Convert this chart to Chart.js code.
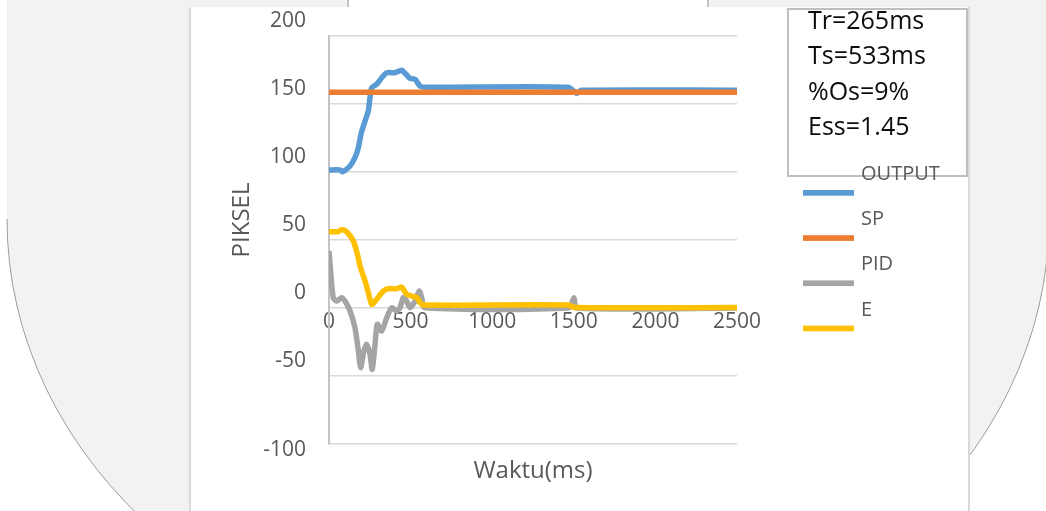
<!DOCTYPE html>
<html>
<head>
<meta charset="utf-8">
<script src="https://cdn.jsdelivr.net/npm/chart.js@4.4.1/dist/chart.umd.min.js"></script>
<style>
  html, body { margin: 0; padding: 0; background: #ffffff; overflow: hidden; }
  #wrap { position: relative; width: 1046px; height: 511px; }
  canvas { display: block; }
</style>
</head>
<body>
<div id="wrap"><canvas id="c" width="1046" height="511"></canvas></div>
<script>
// Step response of the PID loop: time in ms, values in pixels
const outputTime = [0, 67, 84, 129, 159, 180, 196, 221, 241, 251, 262, 292, 323, 354, 404, 445, 472, 496, 527, 558, 588, 1464, 1518, 1545, 2500];
const outputVal  = [101.5, 101.5, 100.2, 104.4, 110.5, 117.9, 127.9, 137.5, 144.9, 154.6, 162, 164.5, 169.3, 173, 173, 174.8, 171.8, 168.9, 168.2, 163.2, 162.3, 162.3, 157.8, 160.1, 160.1];

const spTime = [0, 2500];
const spVal  = [158.7, 158.7];

const pidTime = [0, 10, 26, 47, 78, 98, 129, 159, 180, 194, 214, 231, 251, 265, 282, 296, 323, 354, 384, 415, 435, 455, 476, 496, 527, 553, 568, 588, 1470, 1501, 1518, 2500];
const pidVal  = [42, 27.2, 7.6, 5.1, 7.6, 5.1, -2.2, -14.5, -31.6, -43.9, -31.6, -26.7, -34, -45.1, -26.7, -12, -16.9, -7.1, 0.2, -2.2, 0.2, 7.6, 5.1, 0.2, 5.1, 12.5, 7.6, 0.2, 0.2, 7.6, 0, 0];

const eTime = [0, 57, 78, 108, 149, 174, 190, 221, 241, 262, 292, 333, 363, 415, 445, 476, 507, 537, 558, 578, 1464, 1507, 2500];
const eVal  = [56.1, 56.1, 57.8, 56.1, 49.3, 39.5, 30.9, 19.9, 11.3, 2.7, 6.4, 12.5, 14.2, 14.2, 15.4, 10.1, 8.8, 7.6, 3.9, 2.2, 2.2, 0.3, 0.3];

const seriesNames  = ['OUTPUT', 'SP', 'PID', 'E'];
const seriesColors = ['#5B9BD5', '#ED7D31', '#A5A5A5', '#FFC000'];

const xTickValues = [0, 500, 1000, 1500, 2000, 2500];
const yTickValues = [-100, -50, 0, 50, 100, 150, 200];

const stats = ['Tr=265ms', 'Ts=533ms', '%Os=9%', 'Ess=1.45'];
const xTitle = 'Waktu(ms)';
const yTitle = 'PIKSEL';

const FONT = '"Open Sans", "Noto Sans", sans-serif';
const TEXT_GREY = '#595959';

function points(t, v) { return t.map((x, i) => ({ x: x, y: v[i] })); }

const seriesData = [points(outputTime, outputVal), points(spTime, spVal), points(pidTime, pidVal), points(eTime, eVal)];

// page backdrop: grey sheet with a rounded lower edge, white chart panel, stats box
const backdrop = {
  id: 'backdrop',
  beforeDraw(chart) {
    const ctx = chart.ctx;
    ctx.save();
    ctx.fillStyle = '#ffffff';
    ctx.fillRect(0, 0, chart.width, chart.height);

    ctx.beginPath();
    ctx.moveTo(7, 0);
    ctx.lineTo(1060, 0);
    ctx.lineTo(1060, 219);
    ctx.ellipse(528, 219, 521, 446, 0, 0, Math.PI, false);
    ctx.lineTo(7, 0);
    ctx.closePath();
    ctx.fillStyle = '#f2f2f2';
    ctx.fill();

    ctx.beginPath();
    ctx.ellipse(528, 219, 521, 446, 0, 0, Math.PI, false);
    ctx.strokeStyle = '#9c9c9c';
    ctx.lineWidth = 1;
    ctx.stroke();

    // strip above the panel
    ctx.fillStyle = '#ffffff';
    ctx.fillRect(348, 0, 360, 8);
    ctx.strokeStyle = '#c4c4c4';
    ctx.lineWidth = 2;
    ctx.beginPath();
    ctx.moveTo(348, 0); ctx.lineTo(348, 8);
    ctx.moveTo(708, 0); ctx.lineTo(708, 8);
    ctx.stroke();

    // chart panel
    ctx.fillStyle = '#ffffff';
    ctx.fillRect(190, 7, 779, 504);
    ctx.strokeStyle = '#d9d9d9';
    ctx.lineWidth = 2;
    ctx.beginPath();
    ctx.moveTo(190, 7); ctx.lineTo(190, 511);
    ctx.moveTo(969, 7); ctx.lineTo(969, 511);
    ctx.stroke();

    // stats box
    ctx.fillStyle = '#ffffff';
    ctx.fillRect(788, 9, 179, 167);
    ctx.strokeStyle = '#bfbfbf';
    ctx.lineWidth = 2;
    ctx.strokeRect(788, 9, 179, 167);
    ctx.font = '25px ' + FONT;
    ctx.fillStyle = '#0d0d0d';
    ctx.textAlign = 'left';
    ctx.textBaseline = 'alphabetic';
    stats.forEach((s, i) => ctx.fillText(s, 808, 28.5 + i * 35.6));
    ctx.restore();
  },
  afterDraw(chart) {
    const ctx = chart.ctx;
    const y = chart.scales.y;
    ctx.save();

    // y tick labels (sit above their grid lines, the lowest one below)
    ctx.font = '21px ' + FONT;
    ctx.fillStyle = TEXT_GREY;
    ctx.textAlign = 'right';
    ctx.textBaseline = 'alphabetic';
    y.ticks.forEach(t => {
      const py = y.getPixelForValue(t.value) + (t.value === y.min ? 12 : -9.5);
      ctx.fillText(String(t.value), 306, py);
    });

    // axis titles
    ctx.font = '24px ' + FONT;
    ctx.textAlign = 'center';
    ctx.fillText(xTitle, 533, 478);
    ctx.save();
    ctx.translate(249, 220);
    ctx.rotate(-Math.PI / 2);
    ctx.fillText(yTitle, 0, 0);
    ctx.restore();

    // legend: swatch under each name
    ctx.font = '20px ' + FONT;
    ctx.textAlign = 'left';
    chart.data.datasets.forEach((ds, i) => {
      const base = 180 + i * 45.2;
      ctx.fillStyle = TEXT_GREY;
      ctx.fillText(ds.label, 861, base);
      ctx.fillStyle = ds.borderColor;
      ctx.fillRect(803, base + 10, 51, 5.7);
    });

    ctx.restore();
  }
};

new Chart(document.getElementById('c'), {
  type: 'line',
  data: {
    datasets: seriesNames.map((name, i) => ({
      label: name,
      data: seriesData[i],
      borderColor: seriesColors[i],
      backgroundColor: seriesColors[i],
      borderWidth: 5.5,
      pointRadius: 0,
      tension: 0.25,
      borderJoinStyle: 'round',
      borderCapStyle: 'butt',
      fill: false,
      order: seriesNames.length - 1 - i
    }))
  },
  options: {
    responsive: false,
    animation: false,
    devicePixelRatio: 1,
    layout: { padding: { left: 0, top: 36, right: 309, bottom: 67 } },
    plugins: { legend: { display: false }, tooltip: { enabled: false } },
    scales: {
      x: {
        type: 'linear',
        position: { y: 0 },
        min: xTickValues[0],
        max: xTickValues[xTickValues.length - 1],
        afterBuildTicks: (scale) => { scale.ticks = xTickValues.map(v => ({ value: v })); },
        grid: { display: false, drawTicks: false },
        border: { display: false },
        ticks: {
          color: TEXT_GREY,
          font: { family: FONT, size: 21 },
          padding: 1,
          maxRotation: 0,
          autoSkip: false,
          callback: (v) => String(v)
        }
      },
      y: {
        type: 'linear',
        min: yTickValues[0],
        max: yTickValues[yTickValues.length - 1],
        afterBuildTicks: (scale) => { scale.ticks = yTickValues.map(v => ({ value: v })); },
        afterFit: (scale) => { scale.width = 329; },
        grid: { color: '#d9d9d9', lineWidth: 1.5, drawTicks: false },
        border: { display: true, color: '#c4c4c4', width: 2 },
        ticks: { display: false }
      }
    }
  },
  plugins: [backdrop]
});
</script>
</body>
</html>
